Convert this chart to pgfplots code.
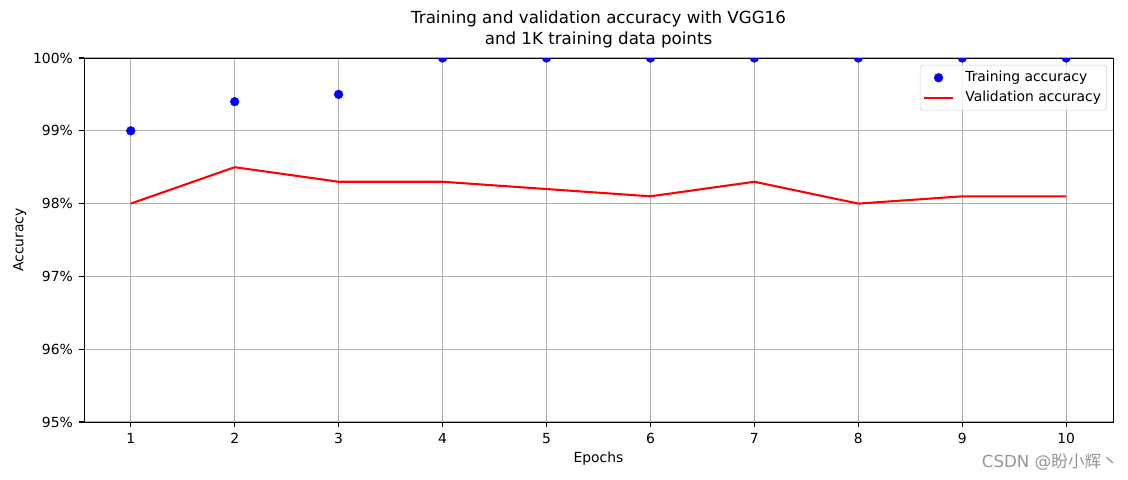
\documentclass[border=0pt]{standalone}
\usepackage{fontspec}
\setmainfont{DejaVu Sans}
\newfontfamily\cjk{Noto Sans CJK SC}
\usepackage{pgfplots}
\pgfplotsset{compat=1.18}
\definecolor{gridgray}{RGB}{176,176,176}
\definecolor{leggray}{RGB}{204,204,204}
\definecolor{wmgray}{RGB}{150,150,150}
\pgfplotsset{
  lineleg/.style={legend image code/.code={\draw[#1, opacity=1] (0pt,0pt) -- (21pt,0pt); \path (27pt,0pt);}},
  markleg/.style={legend image code/.code={\draw[#1, opacity=1] plot coordinates {(10.5pt,0pt)}; \path (0pt,0pt) (27pt,0pt);}},
}
\begin{document}
\begin{tikzpicture}
\useasboundingbox (0,0) rectangle (812.16pt,345.6pt);
\begin{axis}[
  at={(60.48pt,41.76pt)}, anchor=south west,
  scale only axis, width=740.88pt, height=262.08pt,
  xmin=0.55, xmax=10.45, ymin=0.95, ymax=1.0,
  xtick={1,...,10},
  ytick={0.95,0.96,0.97,0.98,0.99,1.0},
  yticklabels={95\%,96\%,97\%,98\%,99\%,100\%},
  /pgf/number format/assume math mode=true,
  tick align=outside, tick pos=left,
  major tick length=3.5pt,
  every tick/.style={black, line width=0.8pt},
  axis line style={line width=0.7pt},
  grid=major,
  major grid style={gridgray, line width=0.8pt},
  tick label style={font=\fontsize{10}{12}\selectfont},
  xticklabel style={yshift=-1pt},
  yticklabel style={xshift=-1pt},
  xlabel={Epochs}, ylabel={Accuracy},
  label style={font=\fontsize{10}{12}\selectfont},
  xlabel style={yshift=1pt},
  ylabel style={yshift=-2pt},
  title={Training and validation accuracy with VGG16\\and 1K training data points},
  title style={align=center, font=\fontsize{12}{15}\selectfont, yshift=-2pt},
  clip marker paths=true,
  legend style={at={(0.994,0.981)}, anchor=north east, draw=leggray, rounded corners=2pt,
    font=\fontsize{10}{12}\selectfont, fill=white, fill opacity=0.8, text opacity=1,
    inner xsep=2pt, inner ysep=2.5pt, row sep=1.2pt},
  legend cell align=left,
]
\addplot[only marks, mark=*, mark size=3.1pt, color=blue, markleg]
  coordinates {(1,0.990) (2,0.994) (3,0.995) (4,1.0) (5,1.0) (6,1.0) (7,1.0) (8,1.0) (9,1.0) (10,1.0)};
\addlegendentry{Training accuracy}
\addplot[red, line width=1.5pt, no marks, lineleg]
  coordinates {(1,0.980) (2,0.985) (3,0.983) (4,0.983) (5,0.982) (6,0.981) (7,0.983) (8,0.980) (9,0.981) (10,0.981)};
\addlegendentry{Validation accuracy}
\end{axis}
\node[wmgray, font=\fontsize{12}{14}\selectfont, anchor=center] at (756pt,12.96pt) {CSDN @{\cjk 盼小辉丶}};
\end{tikzpicture}
\end{document}
